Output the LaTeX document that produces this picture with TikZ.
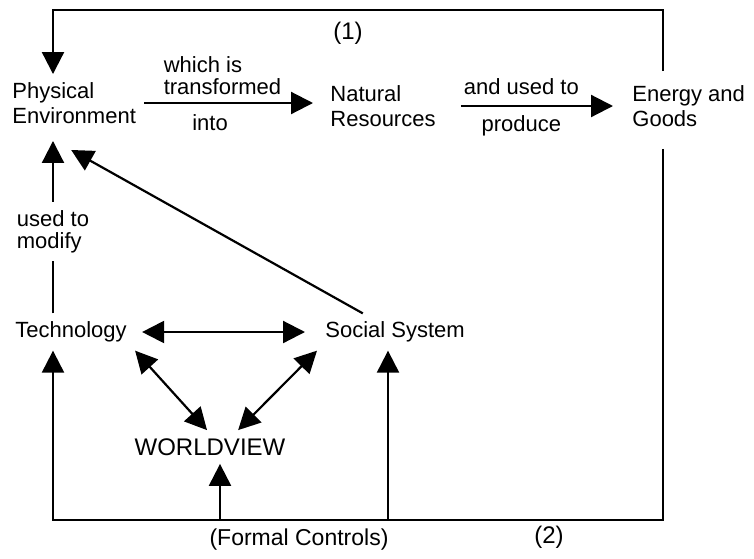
\documentclass[tikz,border=0pt]{standalone}
\usepackage{fontspec}
\setmainfont{Liberation Sans}
\usepackage{tikz}
\usetikzlibrary{arrows.meta, positioning, calc}
\tikzset{
	conceptbox/.style={align=left, inner sep=4pt, anchor=west},
	linklabel/.style={align=left, inner sep=2pt, font=\fontsize{11}{11}\selectfont},
	modlabel/.style={align=left, inner sep=4pt, fill=white, font=\fontsize{11}{11}\selectfont},
	flowline/.style={line width=1.1pt},
	flowarr/.style={-{Triangle[length=11pt, width=11pt]}, line width=1.1pt},
	dualarr/.style={{Triangle[length=11pt, width=11pt]}-{Triangle[length=11pt, width=11pt]}, line width=1.1pt},
}

\begin{document}
\begin{tikzpicture}[x=0.5pt, y=-0.5pt, font=\fontsize{11}{12.5}\selectfont]
	\useasboundingbox (0,0) rectangle (754,558);
	% concepts
	\node[conceptbox] (pe) at (4,103) {Physical\\Environment};
	\node[conceptbox] (nr) at (322,106) {Natural\\Resources};
	\node[conceptbox] (eg) at (624,106) {Energy and\\Goods};
	\node[conceptbox] (tech) at (7,332) {Technology};
	\node[conceptbox] (soc) at (317,332) {Social System};
	\node[inner sep=4pt, font=\fontsize{12}{14}\selectfont] (wv) at (210,447) {WORLDVIEW};
	% loop corners
	\coordinate (topL) at (53,10);
	\coordinate (topR) at (663,10);
	\coordinate (botL) at (53,520);
	\coordinate (botR) at (663,520);
	\coordinate (botW) at (220,520);
	\coordinate (botS) at (388,520);
	% main chain
	\draw[flowarr, shorten >=4.5pt] (pe.east) -- node[linklabel, above=1.5pt, pos=0.44] (lblwhich) {which is\\transformed} node[linklabel, below=3pt, pos=0.37] (lblinto) {into} (pe.east -| nr.west);
	\draw[flowarr, shorten <=8.5pt, shorten >=5.5pt] (nr.east) -- node[linklabel, above=3pt, pos=0.43] (lblused) {and used to} node[linklabel, below=2pt, pos=0.43] (lblprod) {produce} (nr.east -| eg.west);
	% feedback loops
	\draw[flowarr, shorten <=3pt] (topR |- eg.north) -- (topR) -- (topL) -- (topL |- pe.north);
	\node[linklabel, font=\fontsize{12}{13}\selectfont] (one) at (348,33) {(1)};
	\draw[flowarr, shorten <=7pt] (botR |- eg.south) -- (botR) -- (botL) -- (botL |- tech.south);
	\draw[flowarr] (botW) -- (botW |- wv.south);
	\draw[flowarr] (botS) -- (botS |- soc.south);
	\node[linklabel, font=\fontsize{11.5}{13}\selectfont] (formal) at (299,540) {(Formal Controls)};
	\node[linklabel, font=\fontsize{12}{13}\selectfont] (two) at (549,537) {(2)};
	% technology and society
	\draw[flowarr, shorten >=4.5pt] (botL |- tech.north) -- node[modlabel, pos=0.45] (lblmod) {used to\\modify} (botL |- pe.south);
	\draw[flowarr] (soc.150) -- ($(pe.south)+(-3,18)$);
	\draw[dualarr, shorten <=3.5pt, shorten >=6pt] (tech.east) -- (tech.east -| soc.west);
	\draw[dualarr] (tech.south east) -- (wv.100);
	\draw[dualarr] (soc.south west) -- (wv.31);
\end{tikzpicture}
\end{document}
